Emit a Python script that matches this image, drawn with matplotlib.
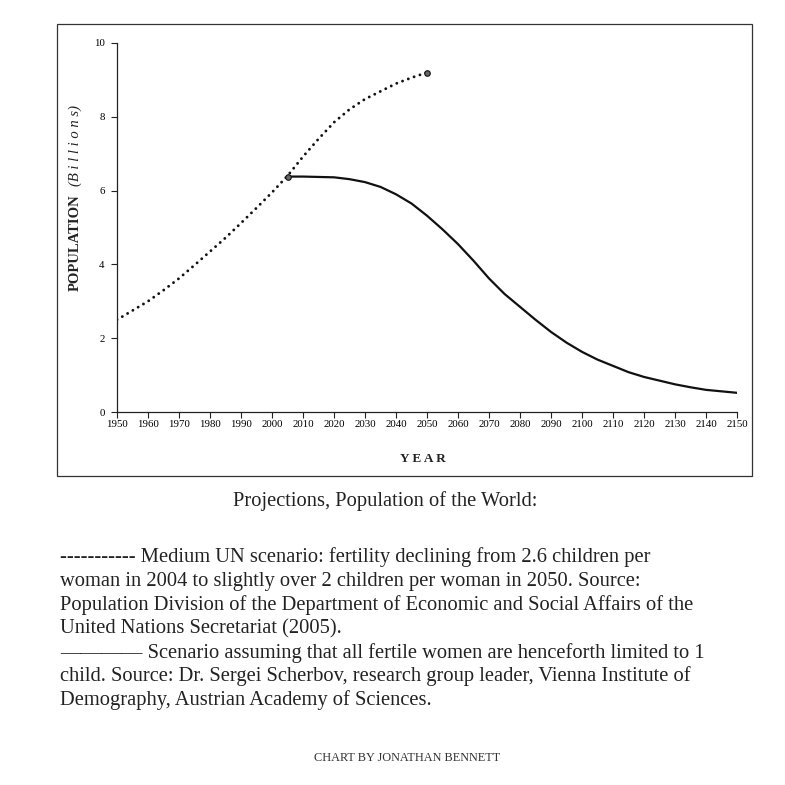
import matplotlib
matplotlib.use("Agg")
import matplotlib.pyplot as plt
from matplotlib.patches import Rectangle

plt.rcParams['font.family'] = ['Liberation Serif', 'DejaVu Serif']

# Medium UN scenario (dotted), billions
un_years = [1950, 1955, 1960, 1965, 1970, 1975, 1980, 1985, 1990, 1995, 2000, 2005,
            2010, 2015, 2020, 2025, 2030, 2035, 2040, 2045, 2050]
un_pop = [2.5, 2.75, 3.0, 3.3, 3.62, 3.98, 4.35, 4.72, 5.12, 5.53, 5.95, 6.4,
          6.92, 7.4, 7.85, 8.2, 8.48, 8.69, 8.9, 9.06, 9.2]

# one-child scenario (solid), billions
one_years = [2005, 2010, 2015, 2020, 2025, 2030, 2035, 2040, 2045, 2050, 2055, 2060,
             2065, 2070, 2075, 2080, 2085, 2090, 2095, 2100, 2105, 2110, 2115, 2120,
             2125, 2130, 2135, 2140, 2145, 2150]
one_pop = [6.38, 6.38, 6.37, 6.36, 6.31, 6.23, 6.1, 5.9, 5.65, 5.32, 4.95, 4.55,
           4.1, 3.62, 3.2, 2.85, 2.5, 2.17, 1.88, 1.63, 1.42, 1.25, 1.08, 0.95,
           0.85, 0.75, 0.67, 0.6, 0.56, 0.52]

x_ticks = list(range(1950, 2151, 10))
y_ticks = [0, 2, 4, 6, 8, 10]

caption = "Projections, Population of the World:"
notes = [
    "----------- Medium UN scenario: fertility declining from 2.6 children per",
    "woman in 2004 to slightly over 2 children per woman in 2050. Source:",
    "Population Division of the Department of Economic and Social Affairs of the",
    "United Nations Secretariat (2005).",
    "\u2014\u2014\u2014\u2014 Scenario assuming that all fertile women are henceforth limited to 1",
    "child. Source: Dr. Sergei Scherbov, research group leader, Vienna Institute of",
    "Demography, Austrian Academy of Sciences.",
]
credit = "CHART BY JONATHAN BENNETT"

W = H = 785.0
fig = plt.figure(figsize=(7.85, 7.85), dpi=100)
fig.patch.set_facecolor("white")


def fx(px):
    return px / W


def fy(py):
    return 1 - py / H


# outer frame around the chart
fig.patches.append(Rectangle((fx(57), fy(476)), fx(752) - fx(57), fy(24) - fy(476),
                             transform=fig.transFigure, fill=False,
                             edgecolor="#333333", linewidth=0.9))

ax = fig.add_axes([fx(117), fy(412), fx(737) - fx(117), fy(43) - fy(412)])
ax.plot(un_years, un_pop, color="#111111", linewidth=2.1,
        linestyle=(0, (0.01, 2.1)), dash_capstyle="round")
ax.plot(one_years, one_pop, color="#111111", linewidth=1.6)
ax.plot([un_years[-1]], [un_pop[-1]], marker="o", ms=4, mfc="#666666", mec="#111111", mew=0.8)
ax.plot([one_years[0]], [one_pop[0]], marker="o", ms=4, mfc="#666666", mec="#111111", mew=0.8)

ax.set_xlim(1950, 2150)
ax.set_ylim(0, 10)
ax.set_xticks(x_ticks)
ax.set_yticks(y_ticks)
ax.tick_params(axis="both", labelsize=7.8, length=4, width=0.8, color="#222222")
ax.tick_params(axis="x", pad=2)
ax.tick_params(axis="y", pad=5)
for s in ["top", "right"]:
    ax.spines[s].set_visible(False)
for s in ["left", "bottom"]:
    ax.spines[s].set_linewidth(0.9)
    ax.spines[s].set_color("#222222")
ax.set_facecolor("none")

fig.text(fx(75), fy(243), "POPULATION", rotation=90, ha="center", va="center",
         fontsize=10.5, fontweight="bold", color="#222222")
fig.text(fx(75), fy(146), "(B i l l i o n s)", rotation=90, ha="center", va="center",
         fontsize=10.5, fontstyle="italic", color="#222222")
fig.text(fx(423), fy(459), "Y E A R", ha="center", va="center", fontsize=9.5,
         fontweight="bold", color="#222222")

fig.text(fx(385), fy(506), caption, ha="center", va="baseline", fontsize=14.8, color="#222222")
for i, line in enumerate(notes):
    fig.text(fx(60), fy(562 + i * 23.9), line, ha="left", va="baseline",
             fontsize=14.8, color="#222222")
fig.text(fx(407), fy(761), credit, ha="center", va="baseline", fontsize=8.8, color="#333333")

fig.savefig("out.png", dpi=100, facecolor="white")
